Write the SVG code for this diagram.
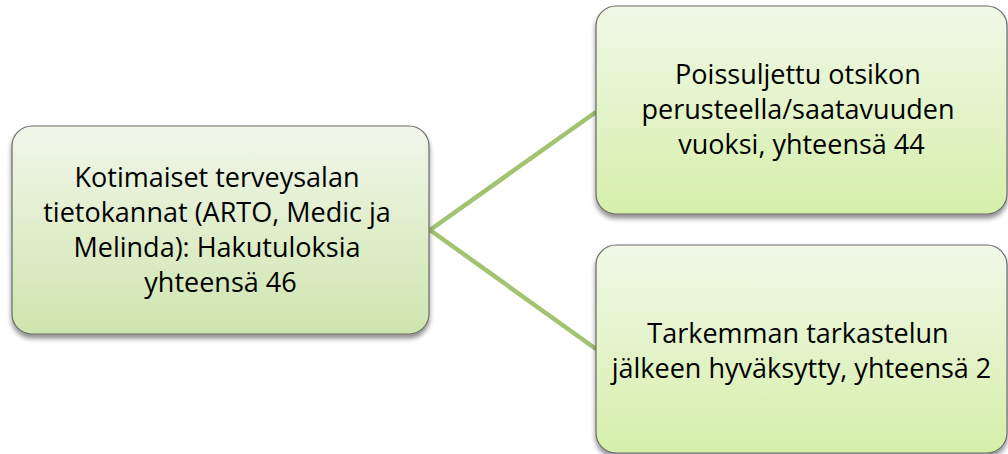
<svg xmlns="http://www.w3.org/2000/svg" width="1008" height="454" viewBox="0 0 1008 454">
  <defs>
    <linearGradient id="fillLeft" x1="0" y1="0" x2="0" y2="1">
      <stop offset="0" stop-color="#f1f6ea"/>
      <stop offset="1" stop-color="#cfe5ae"/>
    </linearGradient>
    <linearGradient id="fillRight" x1="0" y1="0" x2="0" y2="1">
      <stop offset="0" stop-color="#f1f8e8"/>
      <stop offset="1" stop-color="#d5efaa"/>
    </linearGradient>
    <filter id="shadow" x="-10%" y="-10%" width="120%" height="130%">
      <feGaussianBlur in="SourceAlpha" stdDeviation="2.5"/>
      <feOffset dx="0" dy="4" result="off"/>
      <feComponentTransfer><feFuncA type="linear" slope="0.45"/></feComponentTransfer>
      <feMerge><feMergeNode/><feMergeNode in="SourceGraphic"/></feMerge>
    </filter>
  </defs>
  <style>
    .box { stroke: #6b6b6b; stroke-width: 1.2; filter: url(#shadow); }
    .label { font-family: "Open Sans", "Liberation Sans", sans-serif; font-size: 27px; fill: #000; text-anchor: middle; }
    .link { stroke: #a2c36f; stroke-width: 4.5; fill: none; }
  </style>

  <g id="connectors">
    <line class="link" x1="430" y1="230" x2="596" y2="112"/>
    <line class="link" x1="430" y1="230" x2="596" y2="349"/>
  </g>

  <g id="node-source">
    <rect class="box" x="12" y="126" width="417" height="208" rx="20" fill="url(#fillLeft)"/>
    <text class="label">
      <tspan x="220.5" y="187">Kotimaiset terveysalan</tspan>
      <tspan x="220.5" y="222">tietokannat (ARTO, Medic ja</tspan>
      <tspan x="220.5" y="257">Melinda): Hakutuloksia</tspan>
      <tspan x="220.5" y="292">yhteensä 46</tspan>
    </text>
  </g>

  <g id="node-excluded">
    <rect class="box" x="596" y="6" width="411" height="208" rx="20" fill="url(#fillRight)"/>
    <text class="label">
      <tspan x="801.5" y="84">Poissuljettu otsikon</tspan>
      <tspan x="801.5" y="119">perusteella/saatavuuden</tspan>
      <tspan x="801.5" y="154">vuoksi, yhteensä 44</tspan>
    </text>
  </g>

  <g id="node-accepted">
    <rect class="box" x="596" y="245" width="411" height="208" rx="20" fill="url(#fillRight)"/>
    <text class="label">
      <tspan x="801.5" y="343">Tarkemman tarkastelun</tspan>
      <tspan x="801.5" y="378">jälkeen hyväksytty, yhteensä 2</tspan>
    </text>
  </g>
</svg>
